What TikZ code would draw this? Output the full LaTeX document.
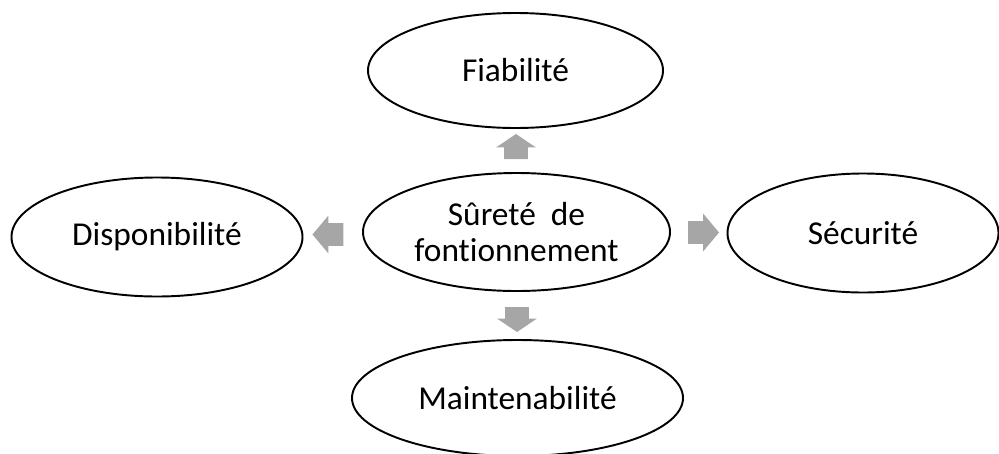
\documentclass[tikz,border=0pt]{standalone}
\usepackage{fontspec}
\setmainfont{Carlito}[Ligatures={NoCommon,NoContextual}]
\usetikzlibrary{shapes.geometric,shapes.arrows,calc}
\definecolor{arrowgray}{HTML}{A6A6A6}
\begin{document}
\begin{tikzpicture}[font=\fontsize{19}{20}\selectfont,
          bub/.style={draw, ellipse, line width=1.1pt, align=center, inner sep=0pt},
          blk/.style={single arrow, fill=arrowgray, draw=none, inner xsep=0pt, inner ysep=0.22cm,
            minimum height=0.62cm, minimum width=0.74cm,
            single arrow head extend=0.15cm, single arrow tip angle=100},
          vblk/.style={blk, inner ysep=0.23cm, minimum height=0.5cm, minimum width=0.78cm,
            single arrow head extend=0.16cm, single arrow tip angle=112}]
        \useasboundingbox (0,0) rectangle (19.98,-9.06);
        \node[bub, minimum width=6.14cm, minimum height=2.36cm] (sdf) at (10.33,-4.64) {Sûreté~ de\\fontionnement};
        \node[bub, minimum width=5.9cm, minimum height=2.3cm] (fia) at (10.31,-1.41) {Fiabilité};
        \node[bub, minimum width=5.82cm, minimum height=2.38cm] (dis) at (3.14,-4.74) {Disponibilité};
        \node[bub, minimum width=5.42cm, minimum height=2.38cm] (sec) at (17.26,-4.66) {Sécurité};
        \node[bub, minimum width=6.62cm, minimum height=2.32cm] (mai) at (10.35,-7.96) {Maintenabilité};
        % block arrows between the bubbles
        \node[vblk, rotate=90] (aup) at ($(sdf.north)!0.5!(fia.south)$) {};
        \node[vblk, rotate=-90] (adown) at ($(sdf.south)!0.5!(mai.north)$) {};
        \node[blk, rotate=180] (aleft) at ($(sdf.west)!0.5!(dis.east)$) {};
        \node[blk] (aright) at ($(sdf.east)!0.5!(sec.west)$) {};
      \end{tikzpicture}
\end{document}
